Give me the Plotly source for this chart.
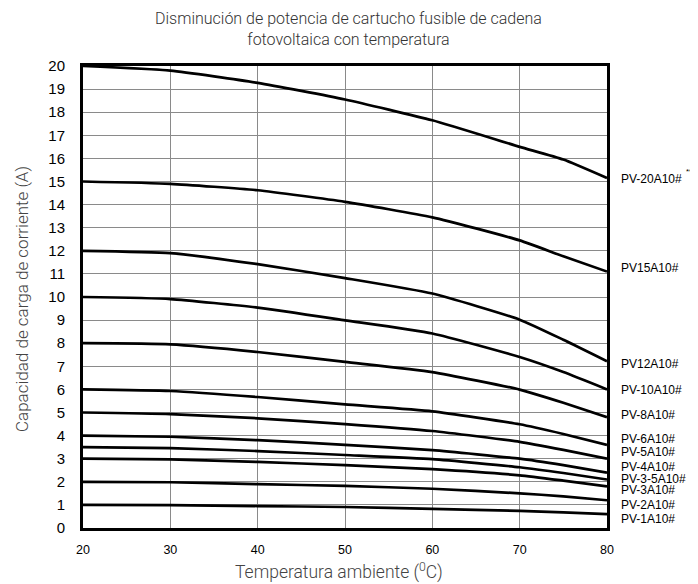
import plotly.graph_objects as go

temps = [20, 30, 40, 50, 60, 70, 75, 80]

names = ["PV-20A10#", "PV15A10#", "PV12A10#", "PV-10A10#", "PV-8A10#", "PV-6A10#",
         "PV-5A10#", "PV-4A10#", "PV-3-5A10#", "PV-3A10#", "PV-2A10#", "PV-1A10#"]

pv20 = [20, 19.8, 19.27, 18.55, 17.65, 16.5, 15.95, 15.15]
pv15 = [15, 14.9, 14.62, 14.12, 13.45, 12.45, 11.76, 11.1]
pv12 = [12, 11.9, 11.42, 10.82, 10.15, 9.02, 8.15, 7.22]
pv10 = [10, 9.91, 9.54, 8.99, 8.42, 7.4, 6.75, 6.0]
pv8 = [8, 7.95, 7.62, 7.19, 6.75, 5.99, 5.42, 4.8]
pv6 = [6, 5.93, 5.67, 5.35, 5.05, 4.49, 4.07, 3.6]
pv5 = [5, 4.93, 4.75, 4.5, 4.2, 3.73, 3.38, 3.0]
pv4 = [4, 3.95, 3.8, 3.6, 3.37, 3.0, 2.72, 2.4]
pv35 = [3.5, 3.46, 3.33, 3.16, 2.98, 2.63, 2.38, 2.1]
pv3 = [3, 2.97, 2.86, 2.72, 2.55, 2.28, 2.05, 1.8]
pv2 = [2, 1.98, 1.9, 1.82, 1.7, 1.5, 1.37, 1.2]
pv1 = [1, 0.99, 0.95, 0.91, 0.83, 0.74, 0.68, 0.6]

series = [pv20, pv15, pv12, pv10, pv8, pv6, pv5, pv4, pv35, pv3, pv2, pv1]

# label anchor heights (annotation placement)
label_y = [15.1, 11.27, 7.1, 5.96, 4.88, 3.85, 3.3, 2.66, 2.13, 1.66, 1.01, 0.37]

title_text = "Disminución de potencia de cartucho fusible de cadena<br>fotovoltaica con temperatura"
xtitle_text = "Temperatura ambiente (<sup>0</sup>C)"
ytitle_text = "Capacidad de carga de corriente (A)"

fig = go.Figure()
for nm, vals in zip(names, series):
    fig.add_trace(go.Scatter(x=temps, y=vals, mode="lines", name=nm,
                             line=dict(color="black", width=2.7, shape="spline", smoothing=0.5),
                             showlegend=False, hoverinfo="x+y+name"))

for nm, ly in zip(names, label_y):
    fig.add_annotation(x=1.0, xref="paper", y=ly, yref="y", text=nm, showarrow=False,
                       xanchor="left", yanchor="middle", xshift=12,
                       font=dict(family="Liberation Sans, Arial", size=12, color="black"))

fig.add_annotation(x=1.0, xref="paper", y=15.44, yref="y", text="**", showarrow=False,
                   xanchor="center", yanchor="middle", xshift=82,
                   font=dict(family="Liberation Sans, Arial", size=8, color="black"))

light = dict(family="Roboto, Liberation Sans, Arial", weight=300)

fig.add_annotation(x=0.5, xref="paper", y=1, yref="paper", text=title_text, showarrow=False,
                   xanchor="center", yanchor="middle", xshift=3, yshift=37,
                   font=dict(size=16, color="#333333", **light))
fig.add_annotation(x=0.5, xref="paper", y=0, yref="paper", text=xtitle_text, showarrow=False,
                   xanchor="center", yanchor="middle", xshift=-6, yshift=-43,
                   font=dict(size=17.5, color="#444444", **light))
fig.add_annotation(x=0, xref="paper", y=0.5, yref="paper", text=ytitle_text, showarrow=False,
                   xanchor="center", yanchor="middle", xshift=-61, yshift=-2, textangle=-90,
                   font=dict(size=17, color="#444444", **light))

fig.update_layout(
    width=690, height=576,
    margin=dict(l=75, r=91, t=58, b=56, autoexpand=False),
    paper_bgcolor="white", plot_bgcolor="white",
    xaxis=dict(range=[20, 80], tickmode="array", tickvals=[20, 30, 40, 50, 60, 70, 80],
               showgrid=True, gridcolor="#8a8a8a", gridwidth=1, automargin=False,
               showline=True, linecolor="black", linewidth=3, mirror=True,
               zeroline=False, ticks="", ticklabelstandoff=8,
               tickfont=dict(family="Liberation Sans, Arial", size=12.5, color="black")),
    yaxis=dict(range=[0, 20], tickmode="array", tickvals=list(range(0, 21)),
               showgrid=True, gridcolor="#8a8a8a", gridwidth=1, automargin=False,
               showline=True, linecolor="black", linewidth=3, mirror=True,
               zeroline=False, ticks="", ticklabelstandoff=12,
               tickfont=dict(family="Liberation Sans, Arial", size=15, color="black")),
)

fig.write_html("out.html")
